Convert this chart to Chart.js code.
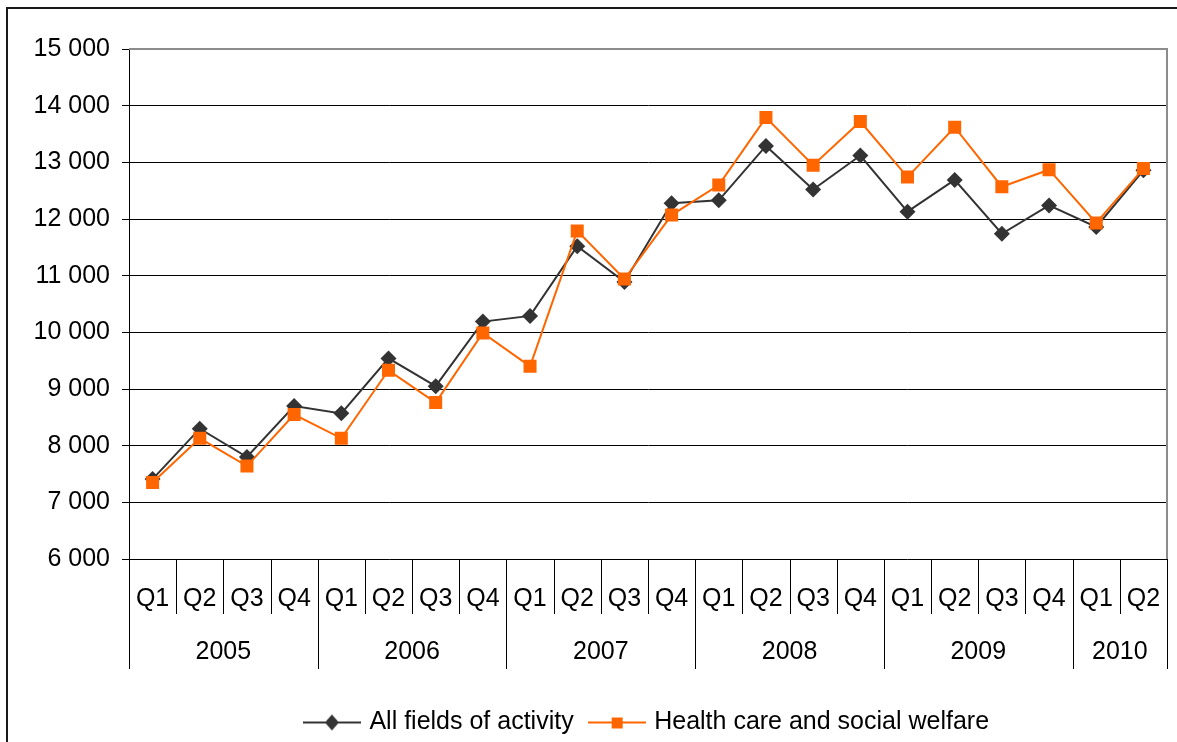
<!DOCTYPE html>
<html>
<head>
<meta charset="utf-8">
<script src="https://cdn.jsdelivr.net/npm/chart.js@4/dist/chart.umd.min.js"></script>
<style>
  html, body { margin: 0; padding: 0; background: #ffffff; }
  #wrap { width: 1177px; height: 742px; position: relative; }
</style>
</head>
<body>
<div id="wrap"><canvas id="chart" width="1177" height="742"></canvas></div>
<script>
// Quarterly series, 2005 Q1 – 2010 Q2
const quarters = ['Q1','Q2','Q3','Q4','Q1','Q2','Q3','Q4','Q1','Q2','Q3','Q4',
                  'Q1','Q2','Q3','Q4','Q1','Q2','Q3','Q4','Q1','Q2'];
const years = ['2005', '2006', '2007', '2008', '2009', '2010'];
const quartersPerYear = [4, 4, 4, 4, 4, 2];

const allFields = [7410, 8300, 7800, 8700, 8570, 9540, 9050, 10190, 10290, 11520, 10890, 12280,
                   12330, 13290, 12520, 13120, 12130, 12690, 11740, 12240, 11860, 12860];
const healthCare = [7350, 8130, 7640, 8550, 8130, 9330, 8760, 9990, 9400, 11790, 10940, 12070,
                    12600, 13790, 12950, 13720, 12740, 13620, 12570, 12870, 11930, 12890];

const seriesNames = ['All fields of activity', 'Health care and social welfare'];
const yMin = 6000, yMax = 15000, yStep = 1000;

const FONT = "'Liberation Sans', Arial, sans-serif";
const FONT_SIZE = 25;
const DARK = '#333333';
const ORANGE = '#ff6600';

function thousands(v) {
  return String(v).replace(/\B(?=(\d{3})+(?!\d))/g, ' ');
}

// Legend swatches: a short line with the series marker in the middle
function swatch(kind) {
  const c = document.createElement('canvas');
  c.width = 58; c.height = 20;
  const g = c.getContext('2d');
  g.lineWidth = 2;
  g.strokeStyle = kind === 'diamond' ? DARK : ORANGE;
  g.beginPath(); g.moveTo(0, 10); g.lineTo(58, 10); g.stroke();
  g.fillStyle = g.strokeStyle;
  if (kind === 'diamond') {
    g.beginPath();
    g.moveTo(29, 2); g.lineTo(36, 10); g.lineTo(29, 18); g.lineTo(22, 10);
    g.closePath(); g.fill();
  } else {
    g.fillRect(24, 5, 11, 11);
  }
  return c;
}
const legendSwatches = [swatch('diamond'), swatch('square')];

// Outer frame around the whole chart
const framePlugin = {
  id: 'frame',
  beforeDraw(chart) {
    const ctx = chart.ctx;
    ctx.save();
    ctx.fillStyle = '#ffffff';
    ctx.fillRect(0, 0, chart.width, chart.height);
    ctx.fillStyle = '#1a1a1a';
    ctx.fillRect(6, 7, chart.width - 6, 2);
    ctx.fillRect(6, 7, 2, chart.height - 7);
    ctx.restore();
  }
};

// Two-level category axis (quarters / years) and the plot-area border
const categoryAxisPlugin = {
  id: 'categoryAxis',
  afterDraw(chart) {
    const ctx = chart.ctx;
    const x = chart.scales.x;
    const area = chart.chartArea;
    const n = quarters.length;
    const half = (x.getPixelForValue(1) - x.getPixelForValue(0)) / 2;
    const boundary = k => (k < n ? x.getPixelForValue(k) - half : x.getPixelForValue(n - 1) + half);

    const yearEdges = new Set([0]);
    let acc = 0;
    quartersPerYear.forEach(q => { acc += q; yearEdges.add(acc); });

    ctx.save();
    // plot border (top and right)
    ctx.strokeStyle = '#8c8c8c';
    ctx.lineWidth = 2;
    ctx.beginPath();
    ctx.moveTo(area.left, area.top);
    ctx.lineTo(area.right, area.top);
    ctx.lineTo(area.right, area.bottom);
    ctx.stroke();

    // separators
    ctx.strokeStyle = '#000000';
    ctx.lineWidth = 1;
    for (let k = 0; k <= n; k++) {
      const px = Math.round(boundary(k)) + 0.5;
      const bottom = yearEdges.has(k) ? area.bottom + 110 : area.bottom + 55;
      ctx.beginPath();
      ctx.moveTo(px, area.bottom);
      ctx.lineTo(px, bottom);
      ctx.stroke();
    }

    // year labels
    ctx.fillStyle = '#000000';
    ctx.font = FONT_SIZE + 'px ' + FONT;
    ctx.textAlign = 'center';
    ctx.textBaseline = 'middle';
    let start = 0;
    years.forEach((yr, i) => {
      const end = start + quartersPerYear[i];
      const cx = (boundary(start) + boundary(end)) / 2;
      ctx.fillText(yr, cx, area.bottom + 93);
      start = end;
    });
    ctx.restore();
  }
};

new Chart(document.getElementById('chart'), {
  type: 'line',
  data: {
    labels: quarters,
    datasets: [
      {
        label: seriesNames[0],
        data: allFields,
        borderColor: DARK,
        backgroundColor: DARK,
        borderWidth: 2,
        pointStyle: 'rectRot',
        pointRadius: 8,
        pointBorderWidth: 0,
        pointBackgroundColor: DARK,
        tension: 0,
        order: 2
      },
      {
        label: seriesNames[1],
        data: healthCare,
        borderColor: ORANGE,
        backgroundColor: ORANGE,
        borderWidth: 2,
        pointStyle: 'rect',
        pointRadius: 9.2,
        pointBorderWidth: 0,
        pointBackgroundColor: ORANGE,
        tension: 0,
        order: 1
      }
    ]
  },
  options: {
    responsive: false,
    devicePixelRatio: 1,
    animation: false,
    layout: { padding: { left: 0, right: 10, top: 49, bottom: -3 } },
    plugins: {
      tooltip: { enabled: false },
      legend: {
        position: 'bottom',
        fullSize: false,
        labels: {
          usePointStyle: true,
          pointStyleWidth: 50,
          padding: 18,
          color: '#000000',
          font: { family: FONT, size: FONT_SIZE },
          generateLabels(chart) {
            return chart.data.datasets.map((ds, i) => ({
              text: ds.label,
              pointStyle: legendSwatches[i],
              fillStyle: ds.borderColor,
              strokeStyle: ds.borderColor,
              lineWidth: 0,
              hidden: false,
              datasetIndex: i
            }));
          }
        }
      }
    },
    scales: {
      x: {
        type: 'category',
        offset: true,
        grid: { display: false, drawTicks: false },
        border: { display: false },
        ticks: {
          autoSkip: false,
          maxRotation: 0,
          minRotation: 0,
          padding: 0,
          color: '#000000',
          font: { family: FONT, size: FONT_SIZE, lineHeight: '80px' }
        },
        afterFit(scale) { scale.height = 133; }
      },
      y: {
        min: yMin,
        max: yMax,
        grid: {
          color: ctx => (ctx.tick && ctx.tick.value === yMax ? '#8c8c8c' : '#000000'),
          lineWidth: 1,
          drawTicks: true,
          tickLength: 7,
          tickColor: '#000000'
        },
        border: { display: true, color: '#000000', width: 1 },
        ticks: {
          stepSize: yStep,
          padding: 12,
          color: '#000000',
          font: { family: FONT, size: FONT_SIZE },
          callback: v => thousands(v)
        },
        afterFit(scale) { scale.width = 129; }
      }
    }
  },
  plugins: [framePlugin, categoryAxisPlugin]
});
</script>
</body>
</html>
